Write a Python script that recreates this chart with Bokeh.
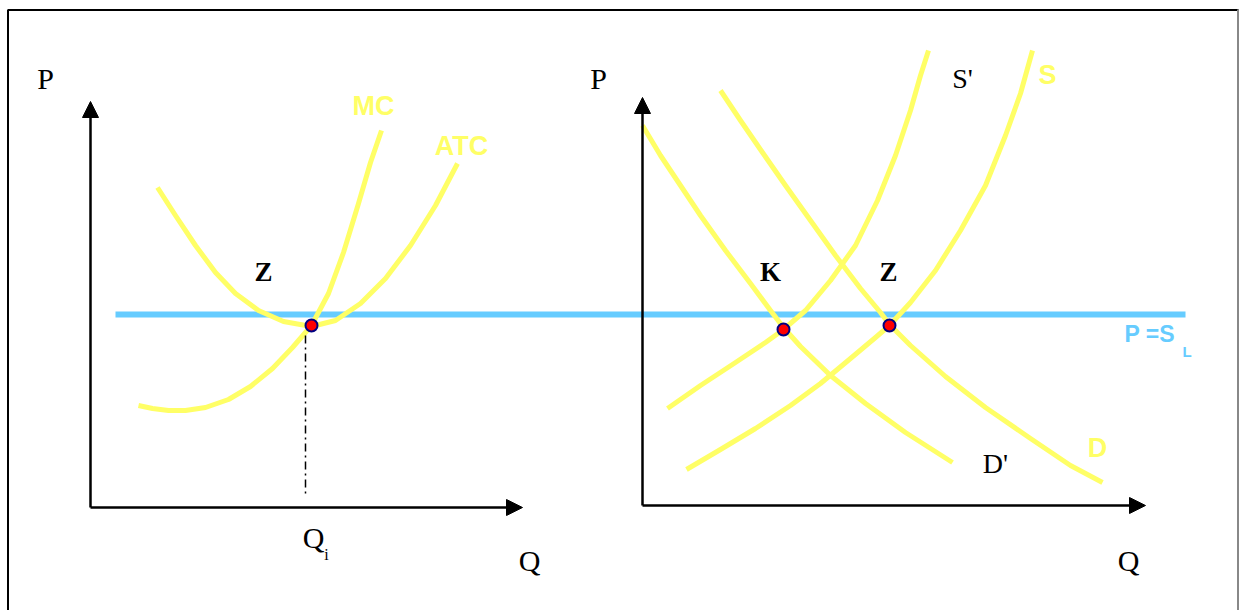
from bokeh.plotting import figure
from bokeh.models import Range1d, Arrow, NormalHead
from bokeh.core.properties import value
from bokeh.embed import file_html
from bokeh.resources import INLINE

# ---- data (diagram units, y grows downward on screen) ----
# left panel: firm
mc_q = [138, 152, 168, 185, 205, 228, 250, 272, 292, 311, 328, 343, 358, 370, 381]
mc_p = [405, 408, 410, 410, 407, 399, 386, 368, 347, 325, 293, 252, 203, 162, 130]
atc_q = [157, 175, 195, 215, 235, 258, 283, 311, 335, 360, 385, 410, 435, 457]
atc_p = [187, 215, 245, 272, 293, 310, 321, 326, 320, 303, 278, 245, 205, 163]
# right panel: industry
s1_q = [667, 700, 735, 765, 783, 805, 830, 855, 877, 895, 910, 920, 928]
s1_p = [408, 385, 362, 342, 329, 310, 280, 245, 200, 155, 110, 75, 50]
s_q = [686, 720, 755, 790, 820, 850, 875, 889, 910, 935, 960, 985, 1005, 1020, 1032]
s_p = [469, 449, 428, 405, 383, 358, 337, 325, 302, 270, 230, 185, 135, 93, 50]
d1_q = [642, 660, 680, 700, 725, 750, 770, 783, 800, 830, 865, 905, 952]
d1_p = [125, 155, 185, 215, 250, 283, 310, 327, 346, 375, 403, 432, 462]
d_q = [720, 740, 762, 785, 810, 835, 860, 880, 889, 910, 945, 985, 1030, 1070, 1102]
d_p = [90, 120, 152, 185, 220, 255, 288, 312, 324, 345, 376, 407, 438, 465, 482]
price_level = 314
price_q = [115, 1185]
eq_q = [311, 783, 889]
eq_p = [325, 329, 325]
qi = 305

YELLOW = "#FFFF66"
BLUE = "#66CCFF"

p = figure(width=1239, height=610, output_backend="svg", toolbar_location=None,
           x_range=Range1d(0, 1239), y_range=Range1d(610, 0),
           min_border=0, outline_line_color=None)
p.axis.visible = False
p.grid.visible = False
p.background_fill_color = "white"

# frame
p.line([7.5, 7.5], [9, 610], line_color="black", line_width=2)
p.line([7.5, 1238], [9.5, 9.5], line_color="black", line_width=2)
p.line([1237.5, 1237.5], [9, 610], line_color="#888888", line_width=2)

# axes with arrows
for (x0, y0, x1, y1) in [(90, 507, 90, 101), (90, 507, 522, 507),
                         (642, 505, 642, 97), (642, 505, 1145, 505)]:
    p.add_layout(Arrow(end=NormalHead(size=16, fill_color="black", line_color="black"),
                       x_start=x0, y_start=y0, x_end=x1, y_end=y1,
                       line_width=2.5, line_color="black"))

# price line
p.line(price_q, [price_level, price_level], line_color=BLUE, line_width=6)

# curves
for xs, ys in [(mc_q, mc_p), (atc_q, atc_p), (s1_q, s1_p), (s_q, s_p), (d1_q, d1_p), (d_q, d_p)]:
    p.line(xs, ys, line_color=YELLOW, line_width=5, line_join="round", line_cap="butt")

# dash-dot to Qi
p.line([qi, qi], [335, 497], line_color="black", line_width=1.5, line_dash="8 4 2 4")

# equilibrium dots
p.scatter(eq_q, eq_p, size=12, fill_color="#FF0000", line_color="#000080", line_width=2)

# white box behind D'
p.quad(left=955, right=1025, top=445, bottom=503, fill_color="white", line_color=None)

serif = value("Liberation Serif")
sans = value("Liberation Sans")

def txt(x, y, s, font, size, color="black", style="normal", align="center"):
    p.text([x], [y], text=[s], text_font=font, text_font_size=size, text_color=color,
           text_font_style=style, text_align=align, text_baseline="middle")

txt(45, 78, "P", serif, "30px")
txt(598, 78, "P", serif, "30px")
txt(529, 560, "Q", serif, "30px")
txt(1128, 560, "Q", serif, "30px")
txt(313, 537, "Q", serif, "30px")
txt(326, 554, "i", serif, "16px")
txt(263, 271, "Z", serif, "27px", style="bold")
txt(770, 271, "K", serif, "27px", style="bold")
txt(888, 271, "Z", serif, "27px", style="bold")
txt(962, 78, "S'", serif, "28px")
txt(995, 463, "D'", serif, "28px")
txt(373, 105, "MC", sans, "27px", color=YELLOW, style="bold")
txt(461, 145, "ATC", sans, "27px", color=YELLOW, style="bold")
txt(1047, 74, "S", sans, "27px", color=YELLOW, style="bold")
txt(1097, 447, "D", sans, "27px", color=YELLOW, style="bold")
txt(1124, 333, "P =S", sans, "23px", color=BLUE, style="bold", align="left")
txt(1182, 351, "L", sans, "15px", color=BLUE, style="bold", align="left")

open("out.html", "w").write(file_html(p, INLINE))
